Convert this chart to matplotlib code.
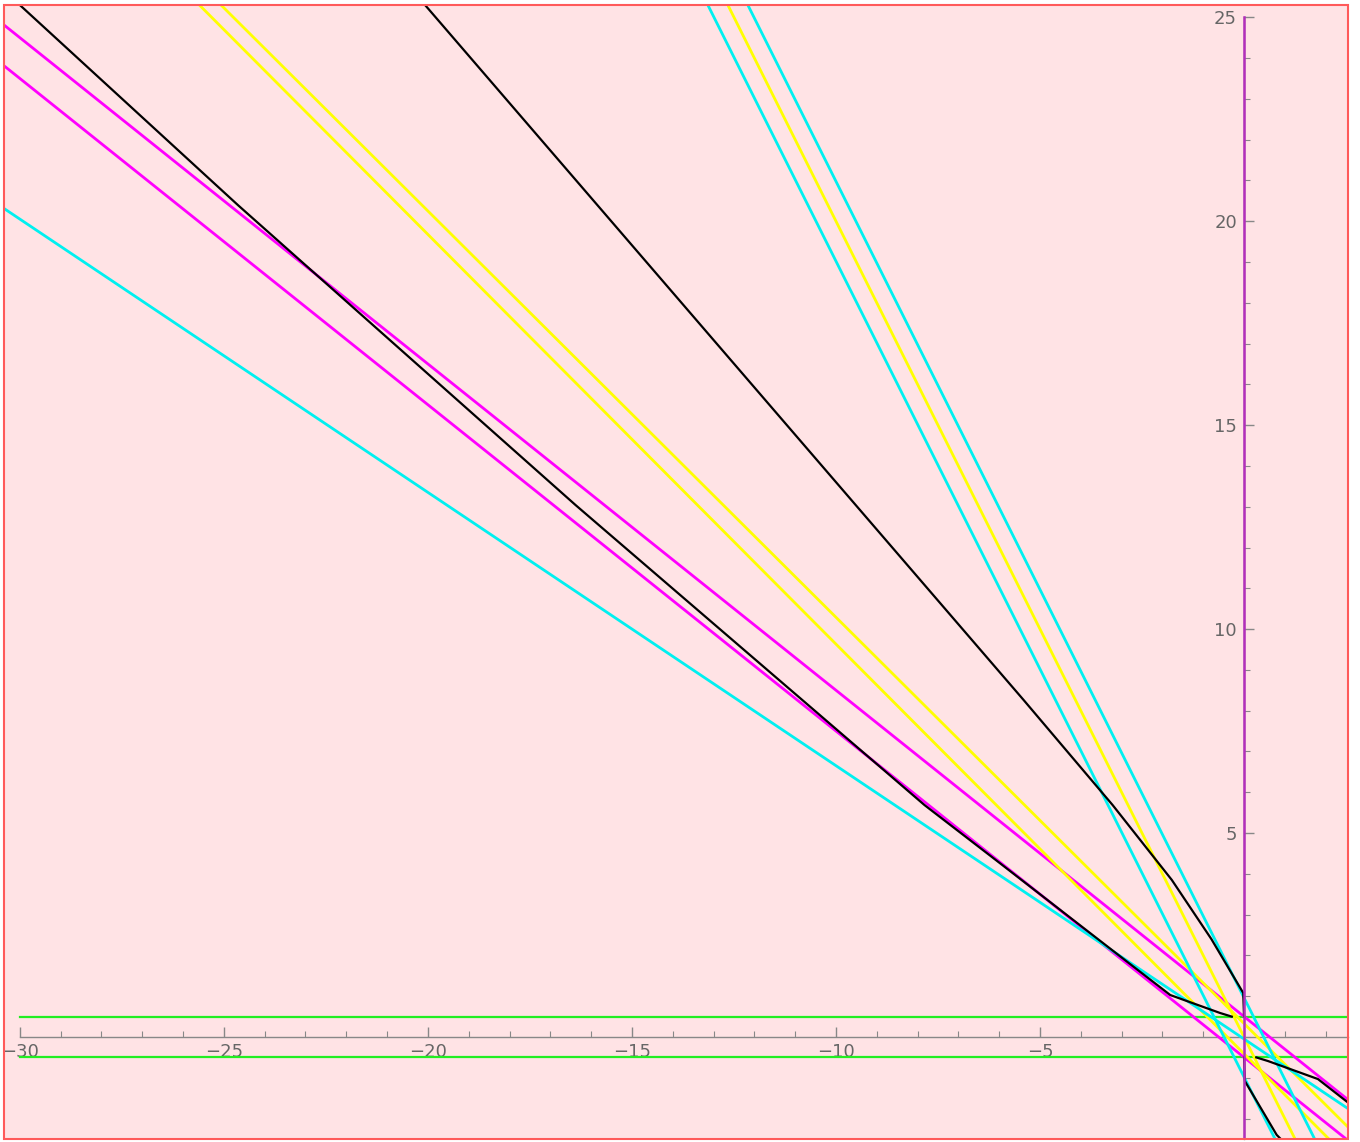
import matplotlib.pyplot as plt
import numpy as np

# plot window (data units)
x_min, x_max = -30.4, 2.54
y_min, y_max = -2.5, 25.3

# horizontal green lines
green_levels = [0.5, -0.5]
green_x = [-30.0, 2.54]

# purple vertical line
purple_x = [0.0, 0.0]
purple_y = [-2.5, 25.0]

# magenta pair
magenta_x = [-30.4, 2.54]
magenta_upper_y = [24.82, -1.53]
magenta_lower_y = [23.82, -2.53]

# yellow lines
yellow_steep_x = [-12.65, 1.25]
yellow_steep_y = [25.3, -2.5]
yellow_a_x = [-25.6, 2.08]
yellow_a_y = [25.3, -2.5]
yellow_b_x = [-25.07, 2.54]
yellow_b_y = [25.3, -2.2]

# cyan lines
cyan_left_x = [-13.14, 0.76]
cyan_left_y = [25.3, -2.5]
cyan_right_x = [-12.16, 1.73]
cyan_right_y = [25.3, -2.5]
cyan_shallow_x = [-30.4, 2.54]
cyan_shallow_y = [20.32, -1.75]

# black curve pieces
black_a_x = [-30.0, -24.65, -16.38, -7.83, -5.98, -3.0, -1.81, -0.59, -0.3]
black_a_y = [25.3, 20.39, 13.04, 5.686, 4.26, 1.95, 1.03, 0.59, 0.5]
black_b_x = [-20.07, -5.4, -3.22, -1.77, -0.8, -0.02, 0.0]
black_b_y = [25.3, 8.26, 5.686, 3.85, 2.4, 1.08, 0.5]
black_c_x = [0.3, 0.59, 1.81, 2.54]
black_c_y = [-0.5, -0.59, -1.03, -1.6]
black_d_x = [0.0, 0.02, 0.8, 0.9]
black_d_y = [-0.5, -1.08, -2.4, -2.5]

fig = plt.figure(figsize=(13.6, 11.42), dpi=100)
ax = fig.add_axes([3.5 / 1360, 3 / 1142, (1347.7 - 3.5) / 1360, (1139 - 5) / 1142])
ax.set_facecolor('#FFE3E5')
ax.set_xlim(x_min, x_max)
ax.set_ylim(y_min, y_max)

lw = 2.0
for lev in green_levels:
    ax.plot(green_x, [lev, lev], color='#22EE22', lw=1.6, zorder=3)

ax.plot(magenta_x, magenta_upper_y, color='#FF00FF', lw=lw, zorder=3)
ax.plot(magenta_x, magenta_lower_y, color='#FF00FF', lw=lw, zorder=3)

ax.plot(yellow_a_x, yellow_a_y, color='#FFFF00', lw=lw, zorder=3)
ax.plot(yellow_b_x, yellow_b_y, color='#FFFF00', lw=lw, zorder=3)
ax.plot(yellow_steep_x, yellow_steep_y, color='#FFFF00', lw=lw, zorder=3)

ax.plot(cyan_left_x, cyan_left_y, color='#00F0F0', lw=lw, zorder=3)
ax.plot(cyan_right_x, cyan_right_y, color='#00F0F0', lw=lw, zorder=3)
ax.plot(cyan_shallow_x, cyan_shallow_y, color='#00F0F0', lw=lw, zorder=3)

for bx, by in [(black_a_x, black_a_y), (black_b_x, black_b_y),
               (black_c_x, black_c_y), (black_d_x, black_d_y)]:
    ax.plot(bx, by, color='black', lw=1.6, zorder=4)

ax.plot(purple_x, purple_y, color='#B22FBB', lw=1.8, zorder=5)

# axes through the origin, Mathematica style
for s in ['right', 'top']:
    ax.spines[s].set_visible(False)
ax.spines['left'].set_position(('data', 0))
ax.spines['bottom'].set_position(('data', 0))
ax.spines['left'].set_bounds(-2.5, 25)
ax.spines['bottom'].set_bounds(-30, 2.54)
for s in ['left', 'bottom']:
    ax.spines[s].set_color('#888888')
    ax.spines[s].set_linewidth(1.0)

ax.set_xticks([-30, -25, -20, -15, -10, -5])
ax.set_xticklabels(['\u221230', '\u221225', '\u221220', '\u221215', '\u221210', '\u22125'])
ax.set_xticks(np.arange(-30, 3, 1), minor=True)
ax.set_yticks([5, 10, 15, 20, 25])
ax.set_yticks(np.arange(-2, 26, 1), minor=True)
ax.tick_params(which='both', direction='in', color='#888888', labelcolor='#666666',
               labelsize=13)
ax.tick_params(which='major', length=7, width=1.0)
ax.tick_params(which='minor', length=4, width=0.8)
ax.tick_params(axis='x', pad=4)
ax.tick_params(axis='y', pad=5)

# outer frame
frame = plt.Rectangle((0, 0), 1, 1, transform=ax.transAxes, fill=False,
                      edgecolor='#FF5A5A', lw=1.5, zorder=10, clip_on=False)
ax.add_patch(frame)

fig.savefig('out.png', dpi=100, facecolor='white')
